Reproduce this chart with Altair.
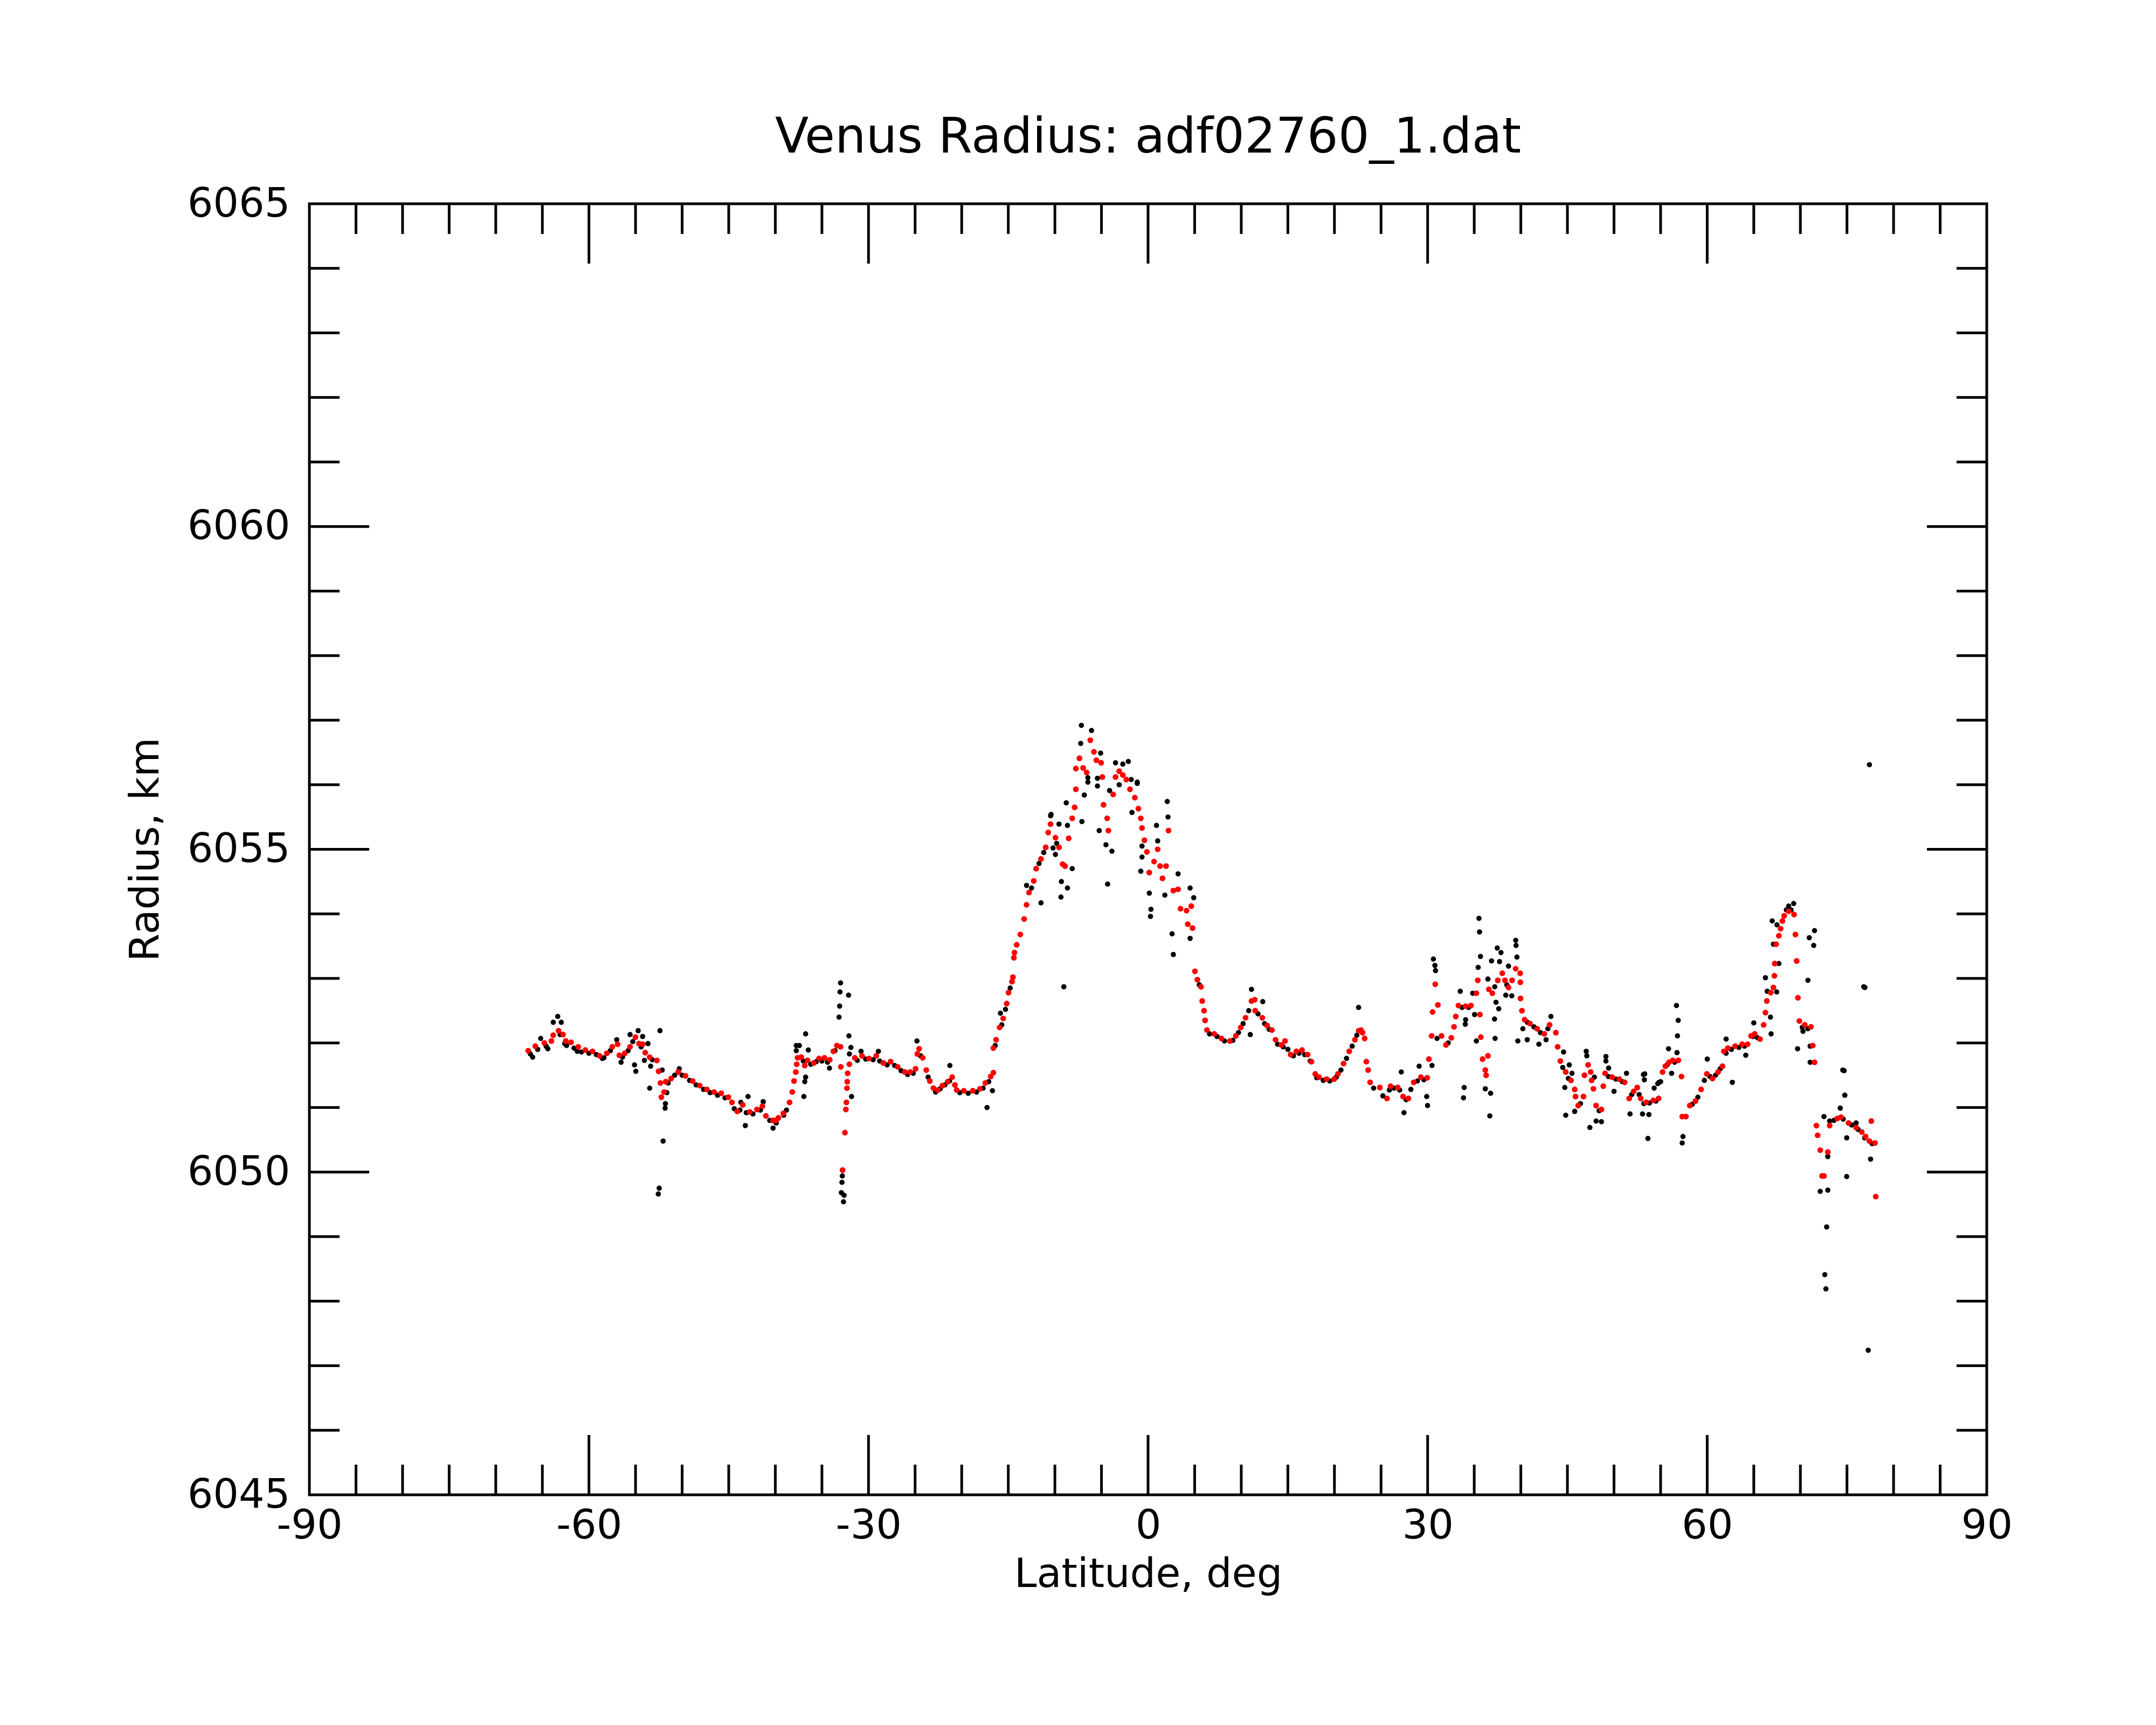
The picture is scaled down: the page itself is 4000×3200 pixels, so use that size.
import altair as alt
import pandas as pd

# ---------------- data ----------------
RED_LAT = [
    -66.52, -65.75, -64.79, -64.03, -63.83, -63.26, -62.78, -62.49, -61.92, -61.15,
    -60.38, -59.62, -58.85, -58.08, -57.50, -56.93, -56.74, -56.16, -55.59, -55.01,
    -54.63, -54.24, -53.96, -53.48, -52.71, -52.52, -52.33, -52.23, -51.94, -51.75,
    -51.18, -50.41, -49.64, -48.87, -48.11, -47.34, -46.57, -45.81, -45.04, -44.65,
    -44.08, -43.50, -42.74, -41.97, -41.39, -41.01, -40.24, -39.91, -39.67, -39.14,
    -38.47, -38.18, -37.99, -37.80, -37.70, -37.61, -37.22, -36.84, -36.55, -35.88,
    -35.31, -34.73, -34.16, -33.77, -33.39, -33.00, -32.97, -32.78, -32.53, -32.43,
    -32.37, -32.31, -32.28, -32.24, -32.05, -31.47, -30.70, -29.94, -29.17, -28.40,
    -27.63, -26.87, -26.10, -25.53, -24.95, -24.76, -24.57, -24.18, -23.80, -23.42,
    -23.03, -22.55, -22.07, -21.50, -21.02, -20.73, -20.54, -19.77, -18.81, -18.04,
    -17.47, -16.89, -16.60, -16.60, -16.31, -15.93, -15.55, -15.17, -14.98, -14.60,
    -14.50, -14.40, -14.34, -14.10, -13.71, -13.30, -13.04, -12.78, -12.27, -12.01,
    -11.49, -10.98, -10.72, -10.46, -9.94, -9.56, -9.17, -8.91, -8.52, -8.14,
    -7.88, -7.75, -7.75, -7.36, -6.97, -6.59, -6.20, -5.81, -5.55, -5.04,
    -4.91, -4.78, -4.39, -4.26, -3.75, -3.49, -3.10, -2.71, -2.33, -1.94,
    -1.42, -1.04, -0.78, -0.65, -0.39, -0.13, 0.13, 0.64, 1.03, 1.29,
    1.55, 1.93, 2.19, 2.71, 3.22, 3.48, 4.13, 4.26, 4.64, 4.77,
    5.03, 5.29, 5.68, 5.81, 6.01, 6.12, 6.32, 7.10, 7.87, 8.78,
    9.42, 9.94, 10.46, 11.10, 11.45, 11.49, 12.26, 12.78, 13.29, 13.68,
    14.29, 14.70, 15.30, 15.91, 16.52, 17.13, 17.53, 17.94, 18.35, 19.16,
    19.97, 20.38, 20.98, 21.59, 22.20, 22.61, 22.85, 23.01, 23.24, 23.42,
    23.62, 23.83, 24.87, 25.64, 26.02, 26.79, 27.36, 27.94, 28.51, 29.28,
    29.95, 30.14, 30.43, 30.53, 30.82, 31.10, 31.49, 31.97, 32.54, 32.83,
    33.02, 33.31, 34.08, 34.65, 35.23, 35.38, 35.61, 35.71, 35.90, 36.19,
    36.28, 36.47, 36.57, 36.95, 37.53, 38.01, 38.30, 38.68, 39.06, 39.45,
    39.93, 39.95, 39.97, 40.12, 40.41, 40.98, 41.75, 42.52, 43.09, 43.76,
    43.95, 44.24, 44.82, 45.39, 45.78, 45.87, 46.16, 46.73, 46.83, 47.22,
    47.50, 47.60, 47.79, 48.08, 48.65, 48.85, 49.04, 49.80, 50.57, 51.15,
    51.63, 52.11, 52.49, 52.87, 53.45, 54.22, 54.79, 55.21, 55.51, 55.89,
    56.30, 56.90, 57.24, 57.32, 57.72, 58.13, 58.74, 59.35, 59.96, 60.57,
    61.17, 61.64, 61.78, 62.22, 62.99, 63.75, 64.33, 64.71, 65.10, 65.67,
    66.06, 66.25, 66.40, 66.82, 67.11, 67.21, 67.25, 67.40, 67.69, 67.88,
    68.07, 68.26, 68.74, 69.32, 69.47, 69.60, 69.74, 69.89, 70.47, 71.14,
    71.33, 71.52, 71.72, 71.85, 72.13, 72.33, 72.53, 72.94, 73.14, 73.96,
    74.36, 75.17, 75.98, 76.59, 77.00, 77.41, 77.61, 78.01, 78.09,
]
RED_RAD = [
    6051.88, 6051.95, 6052.00, 6052.03, 6052.12, 6052.19, 6052.13, 6052.03, 6052.01, 6051.94,
    6051.89, 6051.87, 6051.80, 6051.84, 6051.94, 6051.98, 6051.81, 6051.84, 6051.94, 6052.09,
    6051.99, 6051.98, 6051.85, 6051.78, 6051.73, 6051.56, 6051.38, 6051.16, 6051.24, 6051.40,
    6051.45, 6051.55, 6051.49, 6051.41, 6051.34, 6051.28, 6051.24, 6051.22, 6051.16, 6051.08,
    6050.94, 6051.04, 6050.93, 6050.97, 6051.02, 6050.87, 6050.80, 6050.80, 6050.84, 6050.91,
    6051.08, 6051.24, 6051.41, 6051.55, 6051.67, 6051.77, 6051.78, 6051.65, 6051.73, 6051.69,
    6051.76, 6051.77, 6051.74, 6051.87, 6051.96, 6051.94, 6051.63, 6050.03, 6050.61, 6050.97,
    6051.08, 6051.30, 6051.40, 6051.53, 6051.67, 6051.77, 6051.80, 6051.76, 6051.80, 6051.69,
    6051.71, 6051.63, 6051.55, 6051.55, 6051.60, 6051.83, 6051.91, 6051.77, 6051.58, 6051.41,
    6051.30, 6051.27, 6051.34, 6051.40, 6051.47, 6051.35, 6051.27, 6051.26, 6051.26, 6051.29,
    6051.38, 6051.48, 6051.54, 6051.92, 6052.05, 6052.24, 6052.38, 6052.61, 6052.78, 6052.95,
    6053.02, 6053.32, 6053.40, 6053.52, 6053.68, 6053.92, 6054.14, 6054.33, 6054.51, 6054.70,
    6054.85, 6055.03, 6055.26, 6055.39, 6055.18, 6055.03, 6054.77, 6054.74, 6055.17, 6055.48,
    6055.65, 6055.93, 6056.25, 6056.41, 6056.26, 6056.19, 6056.69, 6056.51, 6056.38, 6056.34,
    6056.12, 6055.69, 6055.48, 6055.29, 6055.85, 6056.12, 6056.21, 6056.15, 6056.08, 6055.93,
    6055.80, 6055.63, 6055.48, 6055.33, 6055.14, 6054.96, 6054.64, 6054.81, 6055.00, 6054.74,
    6054.55, 6054.74, 6055.29, 6054.36, 6054.38, 6054.08, 6054.05, 6053.84, 6054.12, 6053.78,
    6053.11, 6052.98, 6052.87, 6052.65, 6052.50, 6052.35, 6052.20, 6052.14, 6052.07, 6052.03,
    6052.11, 6052.24, 6052.39, 6052.65, 6052.67, 6052.50, 6052.39, 6052.27, 6052.20, 6052.05,
    6051.97, 6052.03, 6051.82, 6051.87, 6051.89, 6051.82, 6051.71, 6051.52, 6051.47, 6051.44,
    6051.44, 6051.52, 6051.68, 6051.87, 6052.05, 6052.19, 6052.20, 6052.16, 6052.07, 6051.71,
    6051.58, 6051.39, 6051.31, 6051.14, 6051.33, 6051.31, 6051.17, 6051.14, 6051.39, 6051.47,
    6051.46, 6051.75, 6052.11, 6052.48, 6052.91, 6052.59, 6052.11, 6051.97, 6052.08, 6052.25,
    6052.41, 6052.58, 6052.57, 6052.58, 6052.77, 6052.97, 6052.44, 6052.09, 6051.75, 6051.58,
    6051.50, 6051.80, 6052.83, 6052.77, 6052.97, 6053.08, 6052.97, 6052.86, 6052.97, 6053.15,
    6053.08, 6052.94, 6052.69, 6052.50, 6052.36, 6052.30, 6052.22, 6052.14, 6052.28, 6052.16,
    6051.94, 6051.72, 6051.55, 6051.42, 6051.28, 6051.17, 6051.03, 6051.17, 6051.50, 6051.66,
    6051.55, 6051.42, 6051.29, 6051.03, 6050.97, 6051.33, 6051.53, 6051.47, 6051.44, 6051.39,
    6051.14, 6051.25, 6051.31, 6051.14, 6051.08, 6051.11, 6051.14, 6051.55, 6051.64, 6051.70,
    6051.73, 6051.73, 6051.48, 6050.86, 6050.86, 6051.03, 6051.10, 6051.28, 6051.52, 6051.45,
    6051.55, 6051.64, 6051.87, 6051.92, 6051.95, 6051.98, 6051.98, 6052.11, 6052.14, 6052.06,
    6052.28, 6052.47, 6052.65, 6052.78, 6052.86, 6053.04, 6053.23, 6053.53, 6053.66, 6053.77,
    6053.89, 6053.97, 6054.04, 6053.99, 6053.68, 6053.27, 6052.70, 6052.34, 6052.28, 6052.25,
    6051.96, 6051.70, 6050.72, 6050.57, 6050.34, 6049.94, 6049.94, 6050.31, 6050.72, 6050.83,
    6050.85, 6050.76, 6050.69, 6050.62, 6050.55, 6050.48, 6050.79, 6050.45, 6049.62,
]

BLACK_LAT = [
    # scattered raw points
    -63.35, -63.83, -62.97, -65.18, -66.04, -64.41, -62.40, -61.25, -58.56, -57.02,
    -56.55, -55.59, -54.72, -54.24, -53.67, -55.11, -54.97, -53.38, -54.05, -52.38,
    -52.14, -53.48, -51.65, -51.79, -51.83, -52.04, -52.46, -52.56, -50.31, -42.93,
    -43.12, -43.22, -41.30, -40.24, -43.70, -39.09, -37.75, -37.75,
    -33.00, -33.06, -32.14, -33.10, -33.16, -36.75, -37.42, -36.46, -32.10, -31.89,
    -32.05, -36.84, -36.94, -34.19, -31.82, -32.81, -32.85, -32.91, -32.62, -32.68,
    -30.80, -28.94, -24.80, -21.27, -17.28, -16.70, -15.84, -36.75,
    -7.16, -6.07, -7.23, -5.09, -6.46, -5.43, -6.84, -8.78, -10.41, -9.56,
    -7.10, -8.65, -5.24, -4.52, -3.88, -9.94, -8.14, -9.30, -8.65, -9.35,
    -13.04, -11.49, -9.04, -4.34, -3.49, -2.12, -1.16, -1.73, -0.65, -0.65,
    -0.78, 2.06, 2.14, 0.90, 1.03, 0.13, 0.31, 0.26, 1.80, 3.22,
    4.51, 4.90, 2.58, 2.71, 4.51, 11.10, 12.31, 10.97, 22.59,
    -1.81, -1.16, -2.71, -3.10, -4.13, -6.46, -5.43, -10.20, -9.81, -10.46,
    35.51, 35.57, 35.67, 30.62, 30.78, 30.85, 39.45, 39.49, 39.58, 37.47,
    37.87, 36.86, 37.72, 38.68, 35.42, 36.47, 33.50, 34.84, 39.03, 38.39,
    37.34, 37.63, 37.18, 37.24, 39.68, 40.69, 41.94, 42.71, 40.22, 43.23,
    34.08, 34.04, 35.04, 35.23, 31.01, 33.92, 33.85, 36.19, 36.76, 36.67,
    30.47, 29.90, 29.99, 29.09, 27.17, 27.46, 44.59, 45.20, 45.49, 44.82,
    44.72, 47.02, 47.08, 47.41, 48.08, 48.65, 49.13, 49.13, 49.42, 51.34,
    50.00, 51.72, 53.16, 53.26, 53.06, 53.74, 53.64, 54.31, 54.70, 47.89,
    45.78,
    69.28, 68.74, 66.98, 67.49, 71.52, 70.95, 71.43, 67.11, 67.69, 66.25,
    70.81, 76.80, 66.44, 67.46, 66.79, 66.86, 65.00, 64.14, 69.70, 70.28,
    71.05, 71.05, 74.55, 56.70, 56.89, 56.81, 55.85, 56.76, 60.01, 62.03,
    62.70, 53.30, 54.84, 56.18, 62.03, 57.32, 57.40,
    77.41, 76.92, 74.69, 74.77, 74.28, 72.53, 73.14, 74.97, 72.94, 74.97,
    72.13, 72.94, 72.82, 72.62, 72.74, 77.28, 77.53, 75.98,
    # raw points lying close to the smoothed curve
    -66.30, -65.50, -64.60, -63.10, -62.60, -61.60, -60.80, -60.00, -59.20, -58.40,
    -57.70, -56.40, -55.80, -55.30, -54.40, -53.20, -51.50, -50.80, -50.00, -49.20,
    -48.50, -47.70, -47.00, -46.20, -45.40, -44.40, -43.80, -42.40, -41.60, -40.60,
    -39.90, -38.80, -37.00, -36.20, -35.60, -35.00, -34.40, -33.60, -31.20, -30.30,
    -29.50, -28.80, -28.00, -27.20, -26.50, -25.80, -25.20, -24.40, -23.60, -22.80,
    -22.30, -21.80, -21.30, -20.20, -19.30, -18.40, -17.70, -17.10, -16.40, -15.70,
    -15.30, -14.80, -12.50, -11.70, -11.20,
    5.50, 6.60, 7.40, 8.20, 9.10, 9.70, 10.20, 10.80, 11.80, 12.50,
    13.00, 13.90, 14.50, 15.00, 15.60, 16.20, 16.80, 17.40, 18.10, 18.80,
    19.50, 20.20, 20.70, 21.30, 21.90, 22.40, 24.20, 25.20, 25.90, 26.40,
    27.00, 27.70, 28.20, 28.90, 29.60, 32.20, 33.70, 34.40, 37.20, 38.50,
    40.70, 41.40, 42.10, 42.90, 44.50, 45.10, 46.40, 48.40, 49.40, 50.20,
    50.90, 51.90, 52.70, 53.20, 53.80, 54.50, 55.00, 55.70, 56.50, 58.40,
    59.00, 59.70, 60.30, 60.90, 61.40, 62.60, 63.40, 64.00, 64.90, 65.40,
    68.50, 69.00, 70.20, 70.80, 73.60, 74.60, 75.50, 76.20, 76.90, 77.70,
]
BLACK_RAD = [
    6052.41, 6052.32, 6052.32, 6052.07, 6051.78, 6051.91, 6051.96, 6051.87, 6051.76, 6052.05,
    6051.70, 6052.13, 6052.19, 6052.10, 6051.99, 6051.66, 6051.56, 6051.64, 6051.73, 6052.19,
    6051.58, 6051.30, 6051.23, 6051.06, 6050.99, 6050.48, 6049.75, 6049.66, 6051.60, 6051.17,
    6050.92, 6050.72, 6051.09, 6050.68, 6051.08, 6050.88, 6051.96, 6051.88,
    6052.93, 6052.79, 6052.74, 6052.57, 6052.40, 6052.14, 6051.96, 6051.89, 6052.11, 6051.93,
    6051.83, 6051.40, 6051.17, 6051.61, 6051.17, 6049.94, 6049.84, 6049.68, 6049.64, 6049.54,
    6051.87, 6051.87, 6052.03, 6051.65, 6051.00, 6051.26, 6052.46, 6051.47,
    6056.92, 6056.84, 6056.64, 6056.49, 6056.04, 6055.98, 6055.84, 6055.72, 6055.54, 6055.39,
    6055.43, 6055.37, 6055.29, 6055.07, 6054.97, 6054.92, 6054.70, 6054.50, 6054.40, 6054.26,
    6054.44, 6054.17, 6052.87, 6054.46, 6056.34, 6056.36, 6056.04, 6055.57, 6055.05, 6054.88,
    6054.66, 6055.74, 6055.50, 6055.37, 6055.13, 6054.32, 6054.07, 6053.96, 6054.29, 6054.62,
    6054.40, 6054.25, 6053.69, 6053.37, 6053.62, 6052.83, 6052.64, 6052.13, 6052.55,
    6056.08, 6056.02, 6056.32, 6056.00, 6055.91, 6056.11, 6056.10, 6055.02, 6055.09, 6055.52,
    6053.93, 6053.72, 6053.34, 6053.30, 6053.20, 6053.12, 6053.59, 6053.51, 6053.33, 6053.47,
    6053.40, 6053.27, 6053.26, 6053.19, 6053.17, 6052.99, 6052.80, 6052.77, 6052.73, 6052.74,
    6052.63, 6052.53, 6052.37, 6052.07, 6052.03, 6052.05, 6051.98, 6052.05, 6052.22, 6052.41,
    6052.36, 6052.29, 6052.44, 6052.03, 6052.07, 6051.31, 6051.15, 6051.29, 6051.22, 6050.87,
    6051.65, 6051.17, 6051.03, 6051.64, 6051.55, 6050.92, 6051.86, 6051.66, 6051.53, 6050.88,
    6051.31, 6051.87, 6051.80, 6050.69, 6050.79, 6050.78, 6051.79, 6051.72, 6051.61, 6051.53,
    6051.25, 6050.90, 6051.51, 6051.43, 6050.90, 6050.89, 6050.52, 6051.30, 6051.37, 6051.47,
    6050.94,
    6054.16, 6054.12, 6053.89, 6053.83, 6053.74, 6053.63, 6053.51, 6053.53, 6053.23, 6053.01,
    6052.97, 6052.87, 6052.80, 6052.79, 6052.40, 6052.14, 6052.31, 6051.81, 6051.91, 6052.18,
    6051.95, 6051.70, 6051.58, 6052.58, 6052.35, 6052.11, 6051.91, 6051.85, 6051.75, 6052.06,
    6051.39, 6051.52, 6051.39, 6051.53, 6051.84, 6050.45, 6050.55,
    6056.31, 6052.86, 6051.57, 6051.19, 6050.99, 6050.86, 6050.79, 6050.53, 6050.24, 6049.93,
    6049.70, 6049.72, 6049.15, 6048.41, 6048.19, 6047.24, 6050.20, 6050.76,
    # raw points lying close to the smoothed curve
    6051.83, 6051.90, 6051.95, 6052.13, 6051.99, 6051.92, 6051.86, 6051.84, 6051.82, 6051.77,
    6051.88, 6051.78, 6051.88, 6052.02, 6051.94, 6051.74, 6051.38, 6051.50, 6051.50, 6051.42,
    6051.35, 6051.28, 6051.23, 6051.19, 6051.15, 6050.98, 6050.96, 6050.90, 6050.96, 6050.80,
    6050.76, 6050.96, 6051.72, 6051.67, 6051.71, 6051.72, 6051.70, 6051.88, 6051.73, 6051.75,
    6051.74, 6051.72, 6051.66, 6051.65, 6051.57, 6051.51, 6051.53, 6051.80, 6051.47, 6051.24,
    6051.29, 6051.35, 6051.41, 6051.23, 6051.22, 6051.24, 6051.30, 6051.40, 6051.96, 6052.28,
    6052.52, 6052.85, 6054.40, 6054.78, 6054.95,
    6052.90, 6052.14, 6052.10, 6052.03, 6052.04, 6052.16, 6052.30, 6052.50, 6052.45, 6052.30,
    6052.21, 6051.98, 6051.94, 6051.90, 6051.80, 6051.84, 6051.82, 6051.72, 6051.46, 6051.42,
    6051.41, 6051.47, 6051.58, 6051.76, 6051.95, 6052.12, 6051.30, 6051.18, 6051.27, 6051.30,
    6051.27, 6051.12, 6051.28, 6051.41, 6051.43, 6052.00, 6052.55, 6052.55, 6052.87, 6052.90,
    6052.32, 6052.25, 6052.16, 6052.22, 6051.62, 6051.45, 6051.06, 6050.95, 6051.48, 6051.44,
    6051.40, 6051.20, 6051.20, 6051.06, 6051.07, 6051.10, 6051.40, 6051.66, 6051.70, 6051.05,
    6051.16, 6051.42, 6051.48, 6051.50, 6051.60, 6051.90, 6051.93, 6051.95, 6052.10, 6052.08,
    6054.06, 6054.06, 6052.24, 6052.22, 6050.80, 6050.82, 6050.73, 6050.66, 6050.53, 6050.44,
]

X_LABELS = [-90, -60, -30, 0, 30, 60, 90]
Y_LABELS = [6045, 6050, 6055, 6060, 6065]
X_MAJOR = [-60, -30, 0, 30, 60]
X_MINOR = [-85, -80, -75, -70, -65, -55, -50, -45, -40, -35, -25, -20, -15, -10, -5,
           5, 10, 15, 20, 25, 35, 40, 45, 50, 55, 65, 70, 75, 80, 85]
Y_MAJOR = [6050, 6055, 6060]
Y_MINOR = [6046, 6047, 6048, 6049, 6051, 6052, 6053, 6054, 6056, 6057, 6058, 6059,
           6061, 6062, 6063, 6064]

TITLE = ["Venus Radius: adf02760_1.dat"]
X_TITLE = "Latitude, deg"
Y_TITLE = "Radius, km"

# ---------------- layout ----------------
W, H = 3112, 2395
MAJ, MIN = 111, 56
FONT = "DejaVu Sans"
LW = 5

xs = alt.Scale(domain=[-90, 90], nice=False, zero=False)
ys = alt.Scale(domain=[6045, 6065], nice=False, zero=False)

x_axis = alt.Axis(values=X_LABELS, title=X_TITLE, grid=False, ticks=False, domain=False,
                  labelExpr="'' + datum.value", labelLimit=0,
                  labelFontSize=75, titleFontSize=75, labelFont=FONT, titleFont=FONT,
                  labelColor="black", titleColor="black", titleFontWeight="normal",
                  labelPadding=21, labelFlush=False, labelOverlap=False,
                  titleY=170, titleBaseline="alphabetic")
y_axis = alt.Axis(values=Y_LABELS, title=Y_TITLE, grid=False, ticks=False,
                  labelExpr="'' + datum.value", labelLimit=0,
                  domain=False, labelFontSize=75, titleFontSize=75, labelFont=FONT,
                  titleFont=FONT, labelColor="black", titleColor="black",
                  titleFontWeight="normal", labelPadding=36, labelFlush=False,
                  labelOverlap=False, titleAngle=270, titleX=-281, titleY=H / 2,
                  titleBaseline="alphabetic", titleAlign="center")

black_df = pd.DataFrame({"lat": BLACK_LAT, "r": BLACK_RAD})
red_df = pd.DataFrame({"lat": RED_LAT, "r": RED_RAD})

black_pts = alt.Chart(black_df).mark_circle(color="black", size=95, opacity=1).encode(
    x=alt.X("lat:Q", scale=xs, axis=x_axis),
    y=alt.Y("r:Q", scale=ys, axis=y_axis),
)
red_pts = alt.Chart(red_df).mark_circle(color="#ff0000", size=115, opacity=1).encode(
    x=alt.X("lat:Q", scale=xs, axis=x_axis),
    y=alt.Y("r:Q", scale=ys, axis=y_axis),
)


def xticks(vals, length):
    d = pd.DataFrame({"v": vals})
    base = alt.Chart(d).mark_rule(color="black", strokeWidth=LW)
    bottom = base.encode(x=alt.X("v:Q", scale=xs, axis=x_axis),
                         y=alt.value(H - length), y2=alt.value(H))
    top = base.encode(x=alt.X("v:Q", scale=xs, axis=x_axis),
                      y=alt.value(0), y2=alt.value(length))
    return [bottom, top]


def yticks(vals, length):
    d = pd.DataFrame({"v": vals})
    base = alt.Chart(d).mark_rule(color="black", strokeWidth=LW)
    left = base.encode(y=alt.Y("v:Q", scale=ys, axis=y_axis),
                       x=alt.value(0), x2=alt.value(length))
    right = base.encode(y=alt.Y("v:Q", scale=ys, axis=y_axis),
                        x=alt.value(W - length), x2=alt.value(W))
    return [left, right]


title_mark = alt.Chart(pd.DataFrame({"t": TITLE})).mark_text(
    font=FONT, fontSize=91, color="black", align="center", baseline="alphabetic"
).encode(text="t:N", x=alt.value(W / 2), y=alt.value(-95))

layers = [black_pts, red_pts]
layers += xticks(X_MAJOR, MAJ) + xticks(X_MINOR, MIN)
layers += yticks(Y_MAJOR, MAJ) + yticks(Y_MINOR, MIN)
layers += [title_mark]

chart = alt.layer(*layers).properties(
    width=W, height=H,
    autosize=alt.AutoSizeParams(type="none"),
    padding={"left": 566, "top": 370, "right": 300, "bottom": 420},
    background="white",
).configure(
    font=FONT,
    view=alt.ViewConfig(stroke="black", strokeWidth=LW),
)

chart.save("out.html", embed_options={"renderer": "svg", "actions": False})
